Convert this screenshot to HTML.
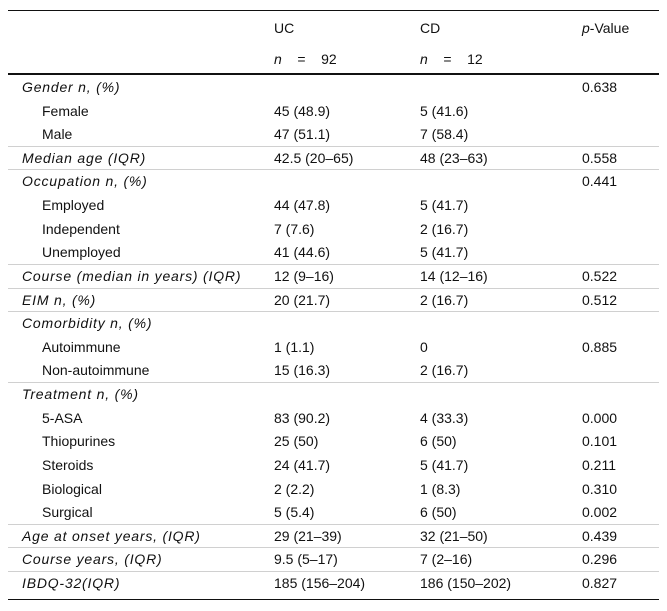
<!DOCTYPE html>
<html><head><meta charset="utf-8"><style>
body{margin:0;width:667px;height:611px;background:#fff;font-family:"Liberation Sans",sans-serif;font-size:14px;color:#111;position:relative;overflow:hidden}
.t{position:absolute;white-space:nowrap;line-height:16px;transform:translateY(-8px)}
.i{font-style:italic;letter-spacing:0.8px}
.ln{position:absolute;left:8px;width:651px}
</style></head><body>
<div class="ln" style="top:10px;height:1px;background:#111"></div>
<div class="ln" style="top:73px;height:2px;background:#111"></div>
<div class="ln" style="top:599px;height:1px;background:#111"></div>
<div class="t" style="left:274px;top:28px">UC</div>
<div class="t" style="left:420px;top:28px">CD</div>
<div class="t" style="left:582px;top:28px"><i>p</i>-Value</div>
<div class="t" style="left:274px;top:59px"><i>n</i>&nbsp;&nbsp;&nbsp;&nbsp;=&nbsp;&nbsp;&nbsp;&nbsp;92</div>
<div class="t" style="left:420px;top:59px"><i>n</i>&nbsp;&nbsp;&nbsp;&nbsp;=&nbsp;&nbsp;&nbsp;&nbsp;12</div>
<div id="rows"></div>
<script>
const rows=[
["Gender n, (%)",1,"","","0.638",1],
["Female",0,"45 (48.9)","5 (41.6)",""],
["Male",0,"47 (51.1)","7 (58.4)",""],
["Median age (IQR)",1,"42.5 (20–65)","48 (23–63)","0.558",1],
["Occupation n, (%)",1,"","","0.441",1],
["Employed",0,"44 (47.8)","5 (41.7)",""],
["Independent",0,"7 (7.6)","2 (16.7)",""],
["Unemployed",0,"41 (44.6)","5 (41.7)",""],
["Course (median in years) (IQR)",1,"12 (9–16)","14 (12–16)","0.522",1],
["EIM n, (%)",1,"20 (21.7)","2 (16.7)","0.512",1],
["Comorbidity n, (%)",1,"","","",1],
["Autoimmune",0,"1 (1.1)","0","0.885"],
["Non-autoimmune",0,"15 (16.3)","2 (16.7)",""],
["Treatment n, (%)",1,"","","",1],
["5-ASA",0,"83 (90.2)","4 (33.3)","0.000"],
["Thiopurines",0,"25 (50)","6 (50)","0.101"],
["Steroids",0,"24 (41.7)","5 (41.7)","0.211"],
["Biological",0,"2 (2.2)","1 (8.3)","0.310"],
["Surgical",0,"5 (5.4)","6 (50)","0.002"],
["Age at onset years, (IQR)",1,"29 (21–39)","32 (21–50)","0.439",1],
["Course years, (IQR)",1,"9.5 (5–17)","7 (2–16)","0.296",1],
["IBDQ-32(IQR)",1,"185 (156–204)","186 (150–202)","0.827",1]];
const c=document.getElementById('rows');
rows.forEach((r,i)=>{
 const y=87+i*23.62;
 if(r[5]&&i>0){const l=document.createElement('div');l.className='ln';l.style.top=(y-12)+'px';l.style.height='1px';l.style.background='#d0d0d0';
 
 
 c.appendChild(l);}
 [[r[1]?22:42,r[0],r[1]],[274,r[2]],[420,r[3]],[582,r[4]]].forEach((d,j)=>{
  if(!d[1])return;const e=document.createElement('div');e.className='t'+(j==0&&d[2]?' i':'');
  e.style.left=d[0]+'px';e.style.top=y+'px';e.textContent=d[1];
  
  
  c.appendChild(e);});
});
</script>
</body></html>
